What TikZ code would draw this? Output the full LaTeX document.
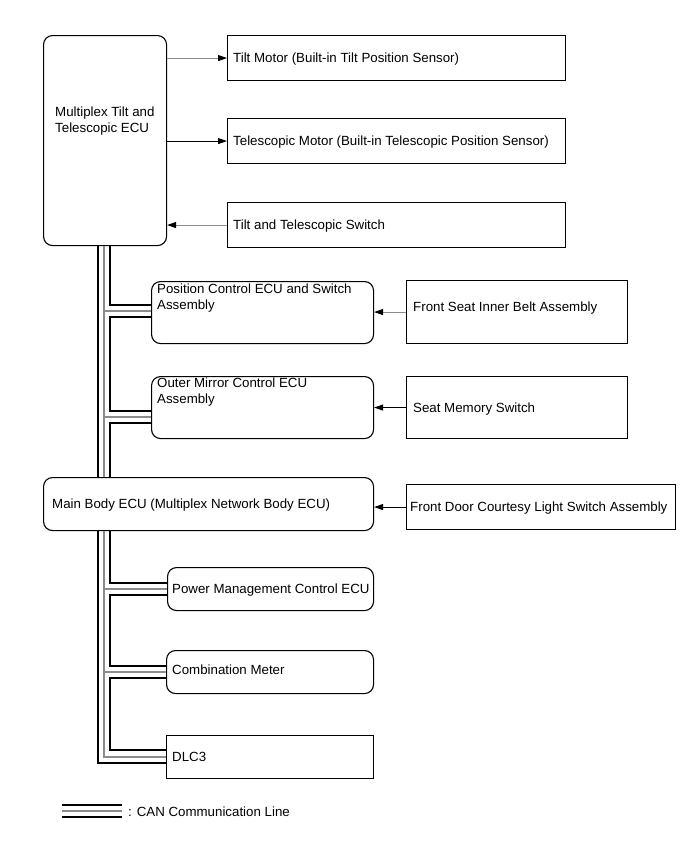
\documentclass[tikz,border=0pt]{standalone}
\usepackage{fontspec}
\setmainfont{Liberation Sans}
\usetikzlibrary{arrows.meta,calc}
\begin{document}
\begin{tikzpicture}[x=1pt,y=-1pt,
  box/.style={draw=black,line width=1.1pt,inner sep=0pt,anchor=north west},
  rbox/.style={box,rounded corners=9pt},
  lbl/.style={inner sep=0pt,font=\fontsize{13.3}{15.5}\selectfont,align=left},
  garrow/.style={draw=black!45,line width=1pt,-{Triangle[length=9pt,width=6pt,color=black]}},
  barrow/.style={draw=black,line width=1pt,-{Triangle[length=9pt,width=6pt]}},
  canb/.style={draw=black,line width=2.2pt,line join=miter},
  cang/.style={draw=black!45,line width=2pt},
]
\useasboundingbox (0,0) rectangle (691,855);

% boxes
\node[rbox,minimum width=123pt,minimum height=210pt] (mx) at (43,35) {};
\node[box,minimum width=338pt,minimum height=45pt] (tm) at (227,35) {};
\node[box,minimum width=338pt,minimum height=45pt] (tel) at (227,118) {};
\node[box,minimum width=338pt,minimum height=45pt] (sw) at (227,202) {};
\node[rbox,minimum width=222pt,minimum height=62pt] (pc) at (151,281) {};
\node[box,minimum width=221pt,minimum height=63pt] (fs) at (406,280) {};
\node[rbox,minimum width=222pt,minimum height=62pt] (om) at (151,376) {};
\node[box,minimum width=221pt,minimum height=62pt] (sm) at (406,376) {};
\node[rbox,minimum width=330pt,minimum height=53pt] (mb) at (43,477) {};
\node[box,minimum width=269pt,minimum height=45pt] (fd) at (406,484) {};
\node[rbox,minimum width=206pt,minimum height=43pt] (pm) at (167,567) {};
\node[rbox,minimum width=207pt,minimum height=43pt] (cm) at (166,650) {};
\node[box,minimum width=207pt,minimum height=43pt] (dl) at (166,735) {};

% texts
\node[lbl,anchor=north west] (mxt) at (55,107) {Multiplex Tilt and\\Telescopic ECU};
\node[lbl,anchor=base west] (tmt) at ($(tm.west)+(6,4.8)$) {Tilt Motor (Built-in Tilt Position Sensor)};
\node[lbl,anchor=base west] (telt) at ($(tel.west)+(6,4.8)$) {Telescopic Motor (Built-in Telescopic Position Sensor)};
\node[lbl,anchor=base west] (swt) at ($(sw.west)+(6,4.8)$) {Tilt and Telescopic Switch};
\node[lbl,anchor=north west] (pct) at (157,284) {Position Control ECU and Switch\\Assembly};
\node[lbl,anchor=base west] (fst) at ($(fs.west)+(7,-1)$) {Front Seat Inner Belt Assembly};
\node[lbl,anchor=north west] (omt) at (157,378) {Outer Mirror Control ECU\\Assembly};
\node[lbl,anchor=base west] (smt) at ($(sm.west)+(7,4.8)$) {Seat Memory Switch};
\node[lbl,anchor=base west] (mbt) at ($(mb.west)+(9,4.8)$) {Main Body ECU (Multiplex Network Body ECU)};
\node[lbl,anchor=base west] (fdt) at ($(fd.west)+(4,4.8)$) {Front Door Courtesy Light Switch Assembly};
\node[lbl,anchor=base west] (pmt) at ($(pm.west)+(5,4.8)$) {Power Management Control ECU};
\node[lbl,anchor=base west] (cmt) at ($(cm.west)+(6,2.8)$) {Combination Meter};
\node[lbl,anchor=base west] (dlt) at ($(dl.west)+(6,4.8)$) {DLC3};

% arrows
\draw[garrow] (mx.east |- tm.west) -- (tm.west);
\draw[barrow] (mx.east |- tel.west) -- (tel.west);
\draw[garrow] (sw.west) -- (mx.east |- sw.west);
\draw[garrow] (fs.west) -- (pc.east |- fs.west);
\draw[barrow] (sm.west) -- (om.east |- sm.west);
\draw[barrow] (fd.west) -- (mb.east |- fd.west);

% CAN bus
\coordinate (xo) at (98,0);
\coordinate (xg) at (104,0);
\coordinate (xi) at (110,0);
% branch points on boxes
\coordinate (pcA) at (151,305); \coordinate (pcG) at (151,311); \coordinate (pcB) at (151,317);
\coordinate (omA) at (151,411); \coordinate (omG) at (151,417); \coordinate (omB) at (151,423);
\coordinate (pmA) at (167,583); \coordinate (pmG) at (167,589); \coordinate (pmB) at (167,595);
\coordinate (cmA) at (166,666); \coordinate (cmG) at (166,672); \coordinate (cmB) at (166,678);
\coordinate (dlA) at (166,750); \coordinate (dlG) at (166,757); \coordinate (dlB) at (166,763);

% upper segment
\draw[canb] (xo |- mx.south) -- (xo |- mb.north);
\draw[cang] (xg |- mx.south) -- (xg |- mb.north);
\draw[cang] (xg |- pcG) -- (pcG);
\draw[cang] (xg |- omG) -- (omG);
\draw[canb] (xi |- mx.south) |- (pcA);
\draw[canb] (pcB) -- (xi |- pcB) -- (xi |- omA) -- (omA);
\draw[canb] (omB) -- (xi |- omB) -- (xi |- mb.north);

% lower segment
\draw[canb] (xo |- mb.south) |- (dlB);
\draw[cang] (xg |- mb.south) |- (dlG);
\draw[cang] (xg |- pmG) -- (pmG);
\draw[cang] (xg |- cmG) -- (cmG);
\draw[canb] (xi |- mb.south) |- (pmA);
\draw[canb] (pmB) -- (xi |- pmB) -- (xi |- cmA) -- (cmA);
\draw[canb] (cmB) -- (xi |- cmB) -- (xi |- dlA) -- (dlA);

% legend
\node[lbl,anchor=base west] (lgt) at (128,816) {: CAN Communication Line};
\coordinate (lgA) at (62,805); \coordinate (lgG) at (62,811); \coordinate (lgB) at (62,817);
\coordinate (lgE) at (122,811);
\draw[canb] (lgA) -- (lgA -| lgE);
\draw[cang] (lgG) -- (lgE);
\draw[canb] (lgB) -- (lgB -| lgE);
\end{tikzpicture}
\end{document}
